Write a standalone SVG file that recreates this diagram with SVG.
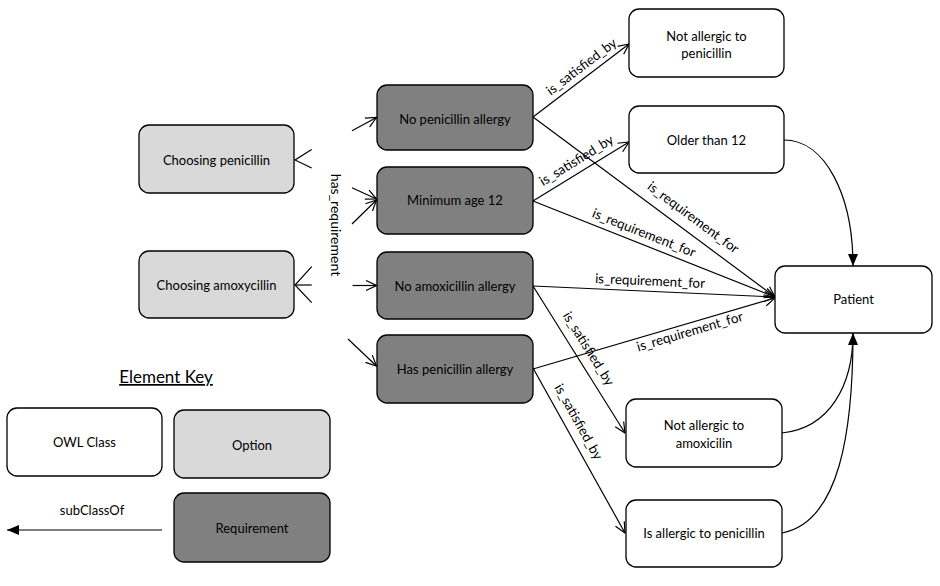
<svg xmlns="http://www.w3.org/2000/svg" width="940" height="586" viewBox="0 0 940 586">
<style>
.box{stroke:#000;stroke-width:1.3}
.cls{fill:#fff}
.opt{fill:#d9d9d9}
.req{fill:#808080}
text{font-family:Lato,"Open Sans","Liberation Sans",sans-serif;font-size:13px;fill:#000}
.lbl{text-anchor:middle;dominant-baseline:central}
.el{font-size:13.4px;text-anchor:middle}
.ln{fill:none;stroke:#000;stroke-width:1.2}
</style>
<defs>
<marker id="open" viewBox="0 0 12 12" refX="11.5" refY="6" markerWidth="12" markerHeight="12" markerUnits="userSpaceOnUse" orient="auto">
<path d="M1,1 L11.5,6 L1,11" fill="none" stroke="#000" stroke-width="1.2"/>
</marker>
<marker id="fill" viewBox="0 0 12 10" refX="12" refY="5" markerWidth="12" markerHeight="10" markerUnits="userSpaceOnUse" orient="auto">
<path d="M0,0 L12,5 L0,10 z" fill="#000"/>
</marker>
</defs>

<g id="connectors">
<!-- has_requirement fragments -->
<polyline class="ln" points="311.7,149.5 295,160 311.7,168"/>
<polyline class="ln" points="311.7,266.7 295,285 311.7,302.7"/>
<line class="ln" x1="311.7" y1="285" x2="295" y2="285"/>
<line class="ln" x1="352" y1="130.7" x2="376.5" y2="117.5" marker-end="url(#open)"/>
<line class="ln" x1="352" y1="187.7" x2="376.5" y2="199" marker-end="url(#open)"/>
<line class="ln" x1="352" y1="224" x2="376.5" y2="200" marker-end="url(#open)"/>
<line class="ln" x1="352.5" y1="285.5" x2="376.5" y2="285.5" marker-end="url(#open)"/>
<line class="ln" x1="348" y1="339" x2="376.5" y2="366" marker-end="url(#open)"/>
<text class="lbl" style="font-size:14px" transform="translate(336,225) rotate(90)">has_requirement</text>

<!-- is_satisfied_by -->
<line class="ln" x1="533" y1="117" x2="629" y2="44" marker-end="url(#open)"/>
<line class="ln" x1="533" y1="201" x2="629" y2="142" marker-end="url(#open)"/>
<line class="ln" x1="533" y1="286" x2="625" y2="433" marker-end="url(#open)"/>
<line class="ln" x1="533" y1="368" x2="625" y2="533" marker-end="url(#open)"/>
<!-- is_requirement_for -->
<line class="ln" x1="533" y1="117" x2="775" y2="297" marker-end="url(#open)"/>
<line class="ln" x1="533" y1="201" x2="775" y2="297" marker-end="url(#open)"/>
<line class="ln" x1="533" y1="286" x2="775" y2="297" marker-end="url(#open)"/>
<line class="ln" x1="533" y1="369" x2="775" y2="298" marker-end="url(#open)"/>

<text class="el" transform="translate(588,75.2) rotate(-37.2)" y="-6.3">is_satisfied_by</text>
<text class="el" transform="translate(582.7,170.5) rotate(-31.6)" y="-7.4">is_satisfied_by</text>
<text class="el" transform="translate(684.3,229.6) rotate(36.6)" y="-10.5">is_requirement_for</text>
<text class="el" transform="translate(639.8,243.4) rotate(21.6)" y="-6.8">is_requirement_for</text>
<text class="el" transform="translate(649.6,291.3) rotate(2.6)" y="-5.8">is_requirement_for</text>
<text class="el" transform="translate(687.5,323.7) rotate(-16.4)" y="12.7">is_requirement_for</text>
<text class="el" transform="translate(576.9,356) rotate(58)" y="-9.2">is_satisfied_by</text>
<text class="el" transform="translate(566.7,428.4) rotate(60.9)" y="-9">is_satisfied_by</text>

<!-- subclass curves -->
<path class="ln" d="M784,140 C825,140 853,195 853,266" marker-end="url(#fill)"/>
<path class="ln" d="M782,433 C830,428 853,385 853,333" marker-end="url(#fill)"/>
<path class="ln" d="M782,533 C840,522 853,430 853,333"/>

<!-- key arrow -->
<line class="ln" x1="162" y1="530" x2="7" y2="530" marker-end="url(#fill)"/>
</g>

<g id="choosing-penicillin"><rect class="box opt" x="139" y="125" width="155" height="68" rx="10"/><text class="lbl" x="216.5" y="160">Choosing penicillin</text></g>
<g id="choosing-amoxycillin"><rect class="box opt" x="139" y="251" width="155" height="67" rx="10"/><text class="lbl" x="216.5" y="285">Choosing amoxycillin</text></g>

<g id="no-penicillin-allergy"><rect class="box req" x="377" y="85" width="156" height="65" rx="10"/><text class="lbl" x="455" y="119">No penicillin allergy</text></g>
<g id="minimum-age-12"><rect class="box req" x="377" y="167" width="156" height="67" rx="10"/><text class="lbl" x="455" y="200">Minimum age 12</text></g>
<g id="no-amoxicillin-allergy"><rect class="box req" x="377" y="252" width="156" height="67" rx="10"/><text class="lbl" x="455" y="286">No amoxicillin allergy</text></g>
<g id="has-penicillin-allergy"><rect class="box req" x="377" y="335" width="156" height="68" rx="10"/><text class="lbl" x="455" y="369">Has penicillin allergy</text></g>

<g id="not-allergic-penicillin"><rect class="box cls" x="629" y="9" width="155" height="68" rx="10"/><text class="lbl" x="706.5" y="36">Not allergic to</text><text class="lbl" x="706.5" y="53">penicillin</text></g>
<g id="older-than-12"><rect class="box cls" x="629" y="106" width="155" height="67" rx="10"/><text class="lbl" x="706.5" y="140">Older than 12</text></g>
<g id="patient"><rect class="box cls" x="775" y="266" width="157" height="67" rx="10"/><text class="lbl" x="853.5" y="299">Patient</text></g>
<g id="not-allergic-amoxicilin"><rect class="box cls" x="626" y="399" width="156" height="68" rx="10"/><text class="lbl" x="704" y="425">Not allergic to</text><text class="lbl" x="704" y="443">amoxicilin</text></g>
<g id="is-allergic-penicillin"><rect class="box cls" x="626" y="500" width="156" height="67" rx="10"/><text class="lbl" x="704" y="533">Is allergic to penicillin</text></g>

<g id="key">
<text x="166" y="383" style="font-size:17px;text-anchor:middle;text-decoration:underline">Element Key</text>
<rect class="box cls" x="7" y="408" width="155" height="68" rx="10"/><text class="lbl" x="84.5" y="442">OWL Class</text>
<rect class="box opt" x="174" y="410" width="156" height="68" rx="10"/><text class="lbl" x="252" y="445">Option</text>
<rect class="box req" x="174" y="493" width="156" height="69" rx="10"/><text class="lbl" x="252" y="528">Requirement</text>
<text class="lbl" x="92" y="510">subClassOf</text>
</g>
</svg>
